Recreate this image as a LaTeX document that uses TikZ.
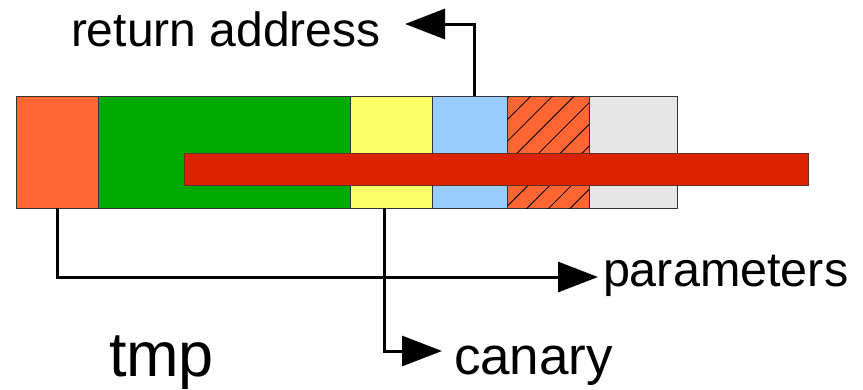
\documentclass[tikz,border=0pt]{standalone}
\usepackage{fontspec}
\setmainfont{Liberation Sans}
\usetikzlibrary{arrows.meta,patterns.meta}
\definecolor{cOrange}{HTML}{FF6633}
\definecolor{cGreen}{HTML}{00AA00}
\definecolor{cYellow}{HTML}{FFFF66}
\definecolor{cBlue}{HTML}{99CCFF}
\definecolor{cGray}{HTML}{E6E6E6}
\definecolor{cRed}{HTML}{DC2300}
\definecolor{cEdge}{HTML}{333333}
\tikzset{
  seg/.style={draw=cEdge, line width=1pt, inner sep=0pt, outer sep=0pt, anchor=north west, minimum height=112pt},
  lbl/.style={inner sep=0pt, outer sep=0pt, anchor=base west},
  conn/.style={line width=3pt, -{Triangle[length=40pt,width=30pt]}}
}
\begin{document}
\begin{tikzpicture}[x=1pt,y=-1pt]
\useasboundingbox (0,0) rectangle (863,389);
% stack segments
\node[seg, fill=cOrange, minimum width=82pt] (orange) at (16.5,96) {};
\node[seg, fill=cGreen, minimum width=252pt] (green) at (98.5,96) {};
\node[seg, fill=cYellow, minimum width=81.5pt] (yellow) at (350.5,96) {};
\node[seg, fill=cBlue, minimum width=75.5pt] (blue) at (432,96) {};
\node[seg, fill=cOrange, minimum width=82pt, postaction={pattern={Lines[angle=45,distance=15.3pt,line width=0.8pt]}, pattern color=black}] (hatched) at (507.5,96) {};
\node[seg, fill=cGray, minimum width=87.5pt] (gray) at (589.5,96) {};
% red bar
\node[draw=cEdge!70!cRed, line width=1pt, fill=cRed, inner sep=0pt, outer sep=0pt, anchor=north west, minimum width=624.5pt, minimum height=32.5pt] (bar) at (184,153) {};
% labels
\node[lbl, font=\fontsize{48}{56}\selectfont] (ret) at (71,46) {return address};
\node[lbl, font=\fontsize{48.5}{56}\selectfont] (param) at (603,286) {parameters};
\node[lbl, font=\fontsize{53}{60}\selectfont] (canary) at (454,374) {canary};
\node[lbl, font=\fontsize{63}{70}\selectfont] (tmp) at (109,376) {tmp};
% connector endpoints
\coordinate (retend) at (405,24);
\coordinate (paramend) at (598,277);
\coordinate (canend) at (442,351);
% connectors
\draw[conn] ([xshift=5pt]blue.north) |- (retend);
\draw[conn] (orange.south) |- (paramend);
\draw[conn] ([xshift=-7pt]yellow.south) |- (canend);
\end{tikzpicture}
\end{document}
